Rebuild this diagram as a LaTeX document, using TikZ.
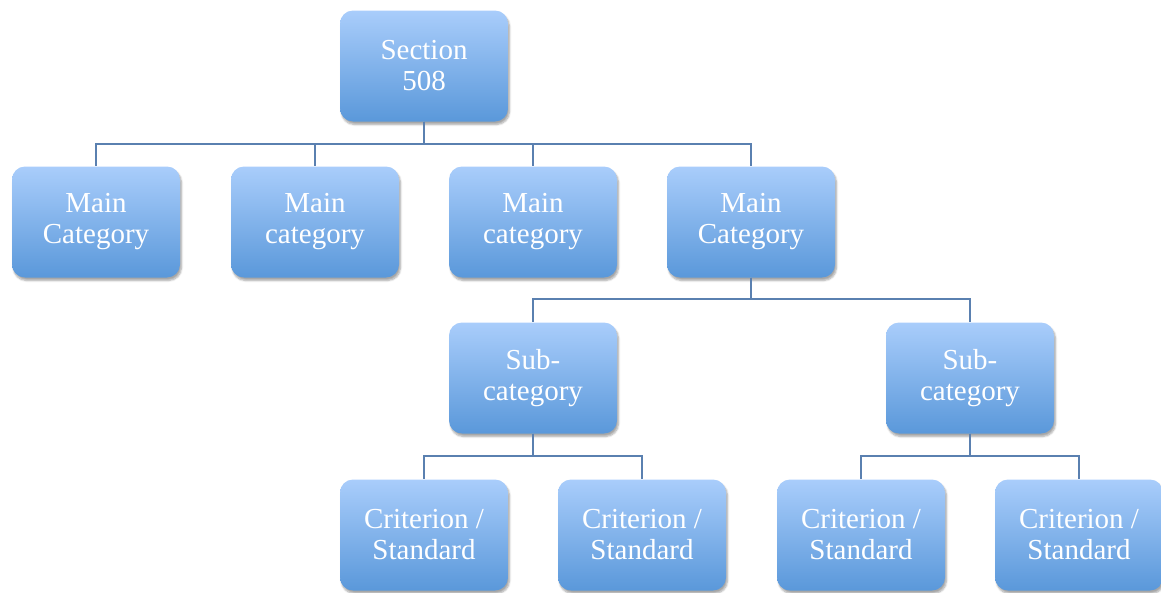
\documentclass[tikz,border=0pt]{standalone}
\usepackage{fontspec}
\setmainfont{Liberation Serif}
\usetikzlibrary{shadows.blur}
\definecolor{boxtop}{HTML}{A9CDFB}
\definecolor{boxbot}{HTML}{5A98DA}
\definecolor{linkblue}{HTML}{5A80B0}
\begin{document}
\begin{tikzpicture}[x=1pt,y=-1pt,
  orgbox/.style={rectangle, rounded corners=13pt, minimum width=168pt,
    minimum height=111pt, inner sep=0pt, align=center, text=white,
    top color=boxtop, bottom color=boxbot, draw=none,
    blur shadow={shadow xshift=1.5pt, shadow yshift=-3pt, shadow blur steps=6, shadow opacity=35},
    font=\fontsize{29}{31}\selectfont},
  link/.style={draw=linkblue, line width=2pt}]
\useasboundingbox (0,0) rectangle (1161,592);

% top level
\node[orgbox] (sec) at (424,66) {Section\\508};

% main categories
\node[orgbox] (m1) at (96,222) {Main\\Category};
\node[orgbox] (m2) at (315,222) {Main\\category};
\node[orgbox] (m3) at (533,222) {Main\\category};
\node[orgbox] (m4) at (751,222) {Main\\Category};

% sub-categories
\node[orgbox] (s1) at (533,378) {Sub-\\category};
\node[orgbox] (s2) at (970,378) {Sub-\\category};

% criteria
\node[orgbox] (c1) at (424,535) {Criterion /\\Standard};
\node[orgbox] (c2) at (642,535) {Criterion /\\Standard};
\node[orgbox] (c3) at (861,535) {Criterion /\\Standard};
\node[orgbox] (c4) at (1079,535) {Criterion /\\Standard};

% connectors
\coordinate (j0) at (424,144);
\coordinate (j1) at (751,299);
\coordinate (j2) at (533,456);
\coordinate (j3) at (970,456);
\foreach \n in {m1,m2,m3,m4}
  \draw[link] (sec.south) -- (j0) -| (\n.north);
\foreach \n in {s1,s2}
  \draw[link] (m4.south) -- (j1) -| (\n.north);
\foreach \n in {c1,c2}
  \draw[link] (s1.south) -- (j2) -| (\n.north);
\foreach \n in {c3,c4}
  \draw[link] (s2.south) -- (j3) -| (\n.north);
\end{tikzpicture}
\end{document}
